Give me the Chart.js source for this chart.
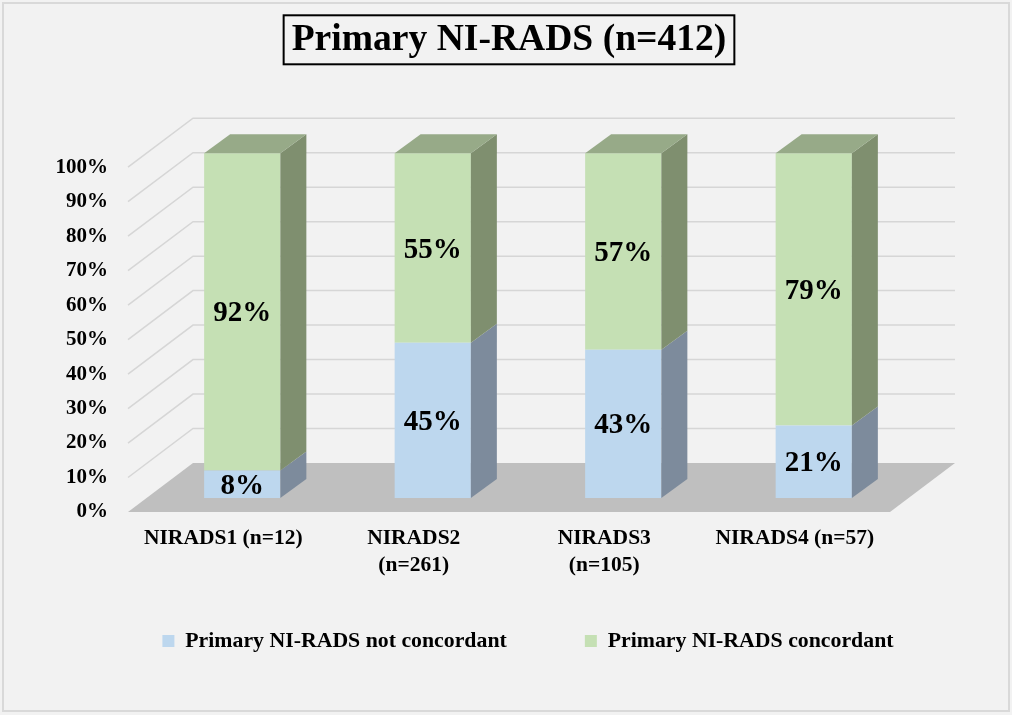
<!DOCTYPE html>
<html>
<head>
<meta charset="utf-8">
<script src="https://cdn.jsdelivr.net/npm/chart.js@4/dist/chart.umd.min.js"></script>
<style>
  html, body { margin: 0; padding: 0; background: #f2f2f2; }
  #wrap { width: 1012px; height: 715px; }
</style>
</head>
<body>
<div id="wrap"><canvas id="c" width="1012" height="715"></canvas></div>
<script>
// ---- data ----
const categories = [['NIRADS1 (n=12)'], ['NIRADS2', '(n=261)'], ['NIRADS3', '(n=105)'], ['NIRADS4 (n=57)']];
const seriesNames = ['Primary NI-RADS not concordant', 'Primary NI-RADS concordant'];
const notConcordant = [8, 45, 43, 21];
const concordant = [92, 55, 57, 79];
const titleText = 'Primary NI-RADS (n=412)';
const yMax = 100;
const yStep = 10;

// ---- styles ----
const SERIF = '"Liberation Serif", "Times New Roman", serif';
const frontColors = ['#bdd7ee', '#c5e0b4'];
const sideColors = ['#7d8b9c', '#7f8f6f'];
const topColors = ['#9aaab9', '#97aa88'];
const DEPTH = { dx: 65, dy: -49 };      // floor/wall depth
const BAR_SHIFT = { dx: 19, dy: -14 };  // bar front offset into the depth
const BAR_DEPTH = { dx: 26, dy: -19 };  // bar thickness
const X_LINE_H = 1.25, X_FONT = 21.5;

const threeD = {
  id: 'threeD',
  beforeDraw(chart) {
    const { ctx, width, height } = chart;
    ctx.save();
    ctx.fillStyle = '#f2f2f2';
    ctx.fillRect(0, 0, width, height);
    ctx.strokeStyle = '#d9d9d9';
    ctx.lineWidth = 2;
    ctx.strokeRect(3, 3, width - 6, height - 7);
    const a = chart.chartArea;
    const y = chart.scales.y;
    const y0 = y.getPixelForValue(0);
    // floor
    ctx.fillStyle = '#bfbfbf';
    ctx.beginPath();
    ctx.moveTo(a.left, y0);
    ctx.lineTo(a.right, y0);
    ctx.lineTo(a.right + DEPTH.dx, y0 + DEPTH.dy);
    ctx.lineTo(a.left + DEPTH.dx, y0 + DEPTH.dy);
    ctx.closePath();
    ctx.fill();
    // gridlines: left wall diagonals + back wall
    ctx.strokeStyle = '#d6d6d6';
    ctx.lineWidth = 1.5;
    y.ticks.forEach(t => {
      if (t.value === 0) return;
      const py = y.getPixelForValue(t.value);
      ctx.beginPath();
      ctx.moveTo(a.left, py);
      ctx.lineTo(a.left + DEPTH.dx, py + DEPTH.dy);
      ctx.lineTo(a.right + DEPTH.dx, py + DEPTH.dy);
      ctx.stroke();
    });
    ctx.restore();
  },
  beforeDatasetsDraw(chart) {
    chart.ctx.save();
    chart.ctx.translate(BAR_SHIFT.dx, BAR_SHIFT.dy);
  },
  afterDatasetsDraw(chart) {
    const { ctx } = chart;
    const nSets = chart.data.datasets.length;
    for (let d = 0; d < nSets; d++) {
      const meta = chart.getDatasetMeta(d);
      meta.data.forEach((bar) => {
        const p = bar.getProps(['x', 'y', 'base', 'width'], true);
        const left = p.x - p.width / 2, right = p.x + p.width / 2;
        const top = Math.min(p.y, p.base), bottom = Math.max(p.y, p.base);
        ctx.fillStyle = sideColors[d];
        ctx.beginPath();
        ctx.moveTo(right, bottom);
        ctx.lineTo(right, top);
        ctx.lineTo(right + BAR_DEPTH.dx, top + BAR_DEPTH.dy);
        ctx.lineTo(right + BAR_DEPTH.dx, bottom + BAR_DEPTH.dy);
        ctx.closePath();
        ctx.fill();
        if (d === nSets - 1) {
          ctx.fillStyle = topColors[d];
          ctx.beginPath();
          ctx.moveTo(left, top);
          ctx.lineTo(right, top);
          ctx.lineTo(right + BAR_DEPTH.dx, top + BAR_DEPTH.dy);
          ctx.lineTo(left + BAR_DEPTH.dx, top + BAR_DEPTH.dy);
          ctx.closePath();
          ctx.fill();
        }
      });
    }
    // value labels
    ctx.fillStyle = '#000';
    ctx.font = 'bold 29px ' + SERIF;
    ctx.textAlign = 'center';
    ctx.textBaseline = 'middle';
    for (let d = 0; d < nSets; d++) {
      const meta = chart.getDatasetMeta(d);
      const vals = chart.data.datasets[d].data;
      meta.data.forEach((bar, i) => {
        const p = bar.getProps(['x', 'y', 'base'], true);
        ctx.fillText(vals[i] + '%', p.x, (p.y + p.base) / 2 + 2);
      });
    }
    ctx.restore();
  },
  afterDraw(chart) {
    const { ctx } = chart;
    const tb = chart.titleBlock;
    if (!tb) return;
    ctx.save();
    ctx.font = 'bold 37.6px ' + SERIF;
    const w = ctx.measureText(titleText).width;
    const cx = (tb.left + tb.right) / 2;
    const cy = tb.top + 17.8 + 22.5;
    ctx.strokeStyle = '#000';
    ctx.lineWidth = 2;
    ctx.strokeRect(cx - w / 2 - 8, cy - 25, w + 16, 49);
    ctx.restore();
  }
};

new Chart(document.getElementById('c'), {
  type: 'bar',
  data: {
    labels: categories,
    datasets: [
      { label: seriesNames[0], data: notConcordant, backgroundColor: frontColors[0], clip: false },
      { label: seriesNames[1], data: concordant, backgroundColor: frontColors[1], clip: false }
    ]
  },
  options: {
    responsive: false,
    animation: false,
    devicePixelRatio: 1,
    layout: { padding: { left: 45, right: 1.1, top: 0, bottom: 53.1 } },
    datasets: { bar: { categoryPercentage: 1, barPercentage: 0.4 } },
    scales: {
      x: {
        stacked: true,
        grid: { display: false, drawTicks: false },
        border: { display: false },
        ticks: { color: '#000', mirror: true, padding: -(13 + X_FONT * X_LINE_H),
          maxRotation: 0, autoSkip: false,
          font: { family: SERIF, size: X_FONT, weight: 'bold', lineHeight: X_LINE_H } },
        afterFit(s) { s.height = 40; }
      },
      y: {
        stacked: true,
        min: 0, max: yMax,
        grid: { display: false, drawTicks: false },
        border: { display: false },
        ticks: { stepSize: yStep, color: '#000', padding: 20,
          font: { family: SERIF, size: 21, weight: 'bold' },
          callback: v => v + '%' },
        afterFit(s) { s.width = 83; }
      },
      yRight: {
        position: 'right',
        display: true,
        grid: { display: false, drawTicks: false },
        border: { display: false },
        ticks: { display: false },
        afterFit(s) { s.width = 120.9; }
      }
    },
    plugins: {
      title: {
        display: true,
        text: titleText,
        fullSize: false,
        color: '#000',
        font: { family: SERIF, size: 37.6, weight: 'bold', lineHeight: 1.2 },
        padding: { top: 17.8, bottom: 104.3 }
      },
      legend: {
        position: 'bottom',
        align: 'center',
        labels: {
          boxWidth: 12, boxHeight: 12, padding: 78.1, color: '#000',
          font: { family: SERIF, size: 21.8, weight: 'bold' }
        }
      },
      tooltip: { enabled: false }
    }
  },
  plugins: [threeD]
});
</script>
</body>
</html>
